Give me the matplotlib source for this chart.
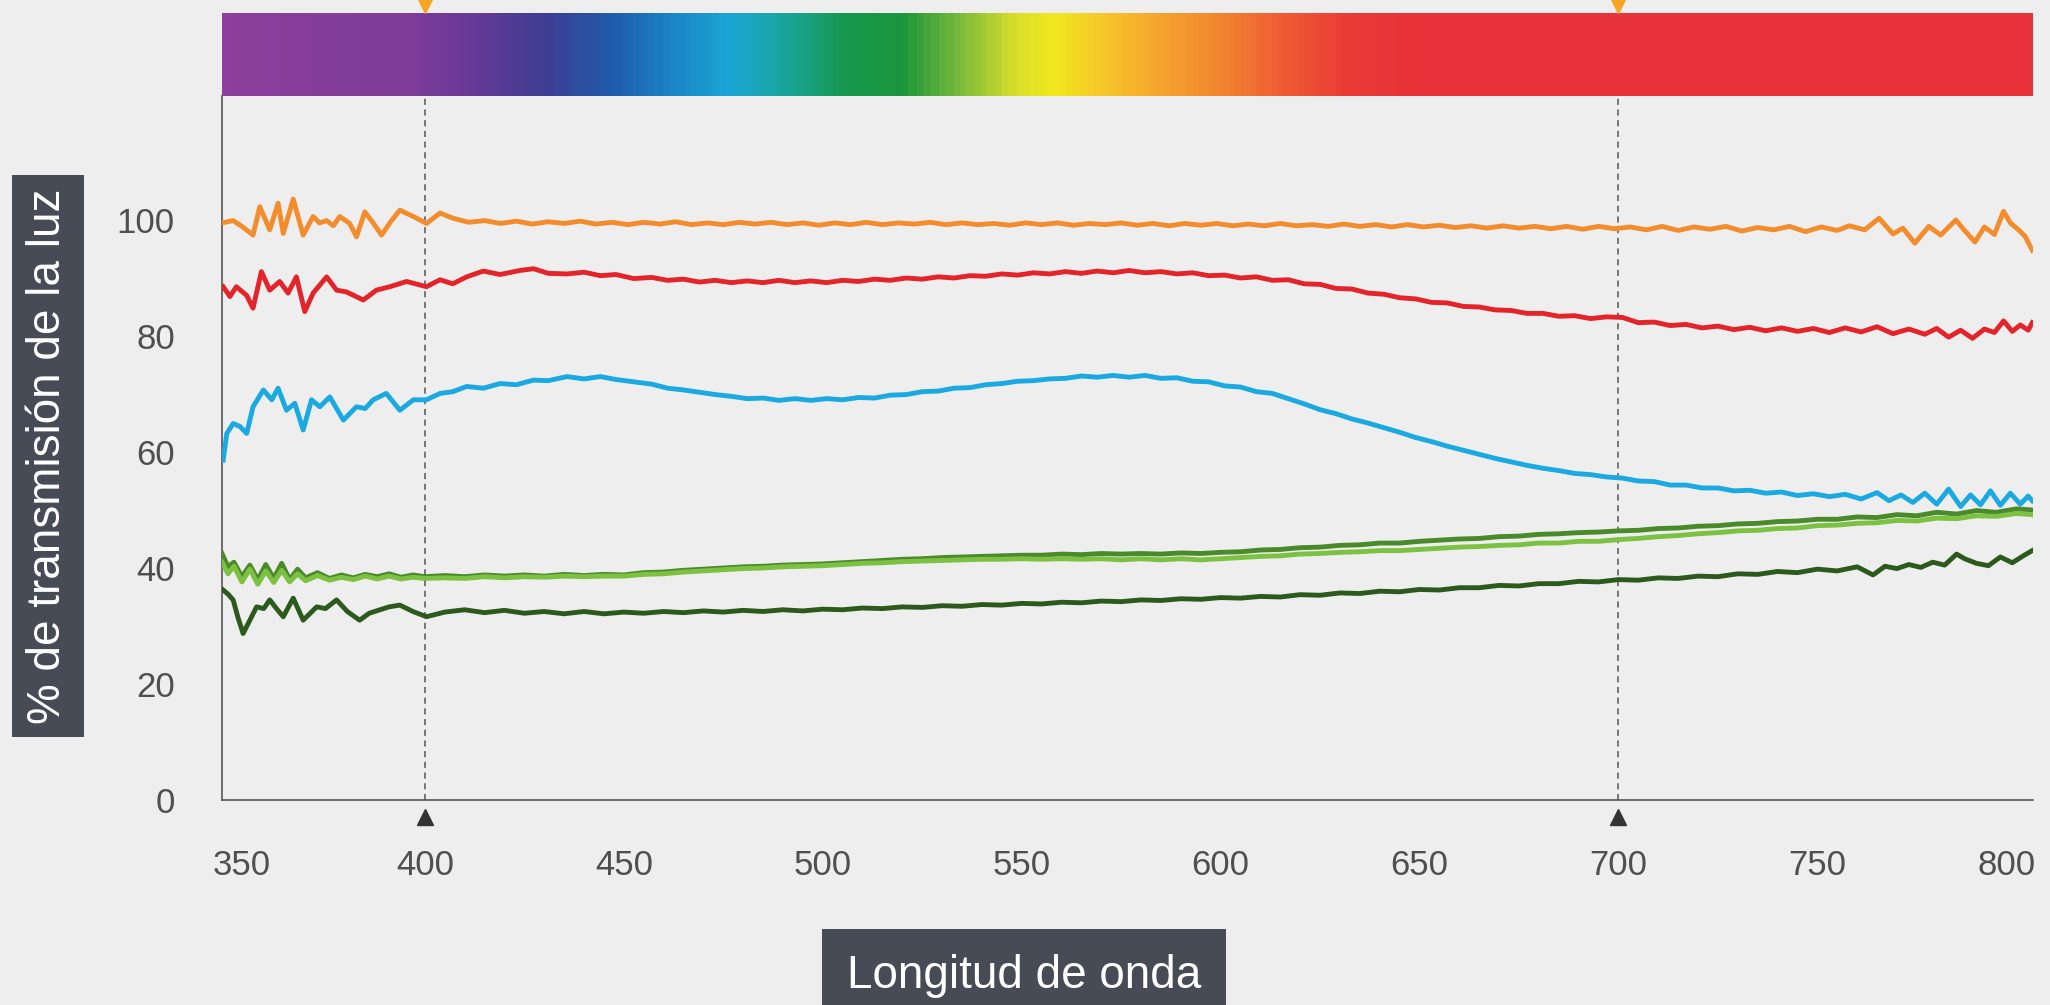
import matplotlib
matplotlib.use("Agg")
import matplotlib.pyplot as plt
import numpy as np
from matplotlib.colors import LinearSegmentedColormap
from matplotlib.transforms import ScaledTranslation

plt.rcParams['font.family'] = ['Liberation Sans', 'DejaVu Sans']

# --- data ---
wl_orange = [
    349, 351.8, 354, 356.8, 358.5, 361, 363.1, 364.4, 366.9, 369.4,
    371.9, 373.5, 375.3, 377, 378.6, 381.1, 382.8, 384.9, 387, 389.1,
    391.5, 393.7, 397.1, 400.4, 403.8, 407.1, 411, 415, 419, 423,
    427, 431, 435, 439, 443, 447, 451, 455, 459, 463,
    467, 471, 475, 479, 483, 487, 491, 495, 499, 503,
    507, 511, 515, 519, 523, 527, 531, 535, 539, 543,
    547, 551, 555, 559, 563, 567, 571, 575, 579, 583,
    587, 591, 595, 599, 603, 607, 611, 615, 619, 623,
    627, 631, 635, 639, 643, 647, 651, 655, 659, 663,
    667, 671, 675, 679, 683, 687, 691, 695, 699, 703,
    707, 711, 715, 719, 723, 727, 731, 735, 739, 743,
    747, 751, 755, 758, 761.9, 765.5, 769, 771.5, 774.5, 778,
    781, 784.8, 787, 789.6, 792, 794.5, 796.8, 798.5, 800.4, 802.2,
    804]
orange = [
    99.5, 99.9, 98.9, 97.4, 102.3, 98.3, 102.9, 97.7, 103.6, 97.4,
    100.6, 99.5, 99.9, 99.0, 100.6, 99.4, 97.1, 101.4, 99.5, 97.4,
    99.8, 101.7, 100.6, 99.4, 101.2, 100.3, 99.6, 99.9, 99.4, 99.8,
    99.3, 99.7, 99.4, 99.8, 99.3, 99.6, 99.2, 99.6, 99.3, 99.7,
    99.2, 99.5, 99.2, 99.6, 99.3, 99.6, 99.2, 99.5, 99.1, 99.5,
    99.2, 99.6, 99.2, 99.5, 99.3, 99.6, 99.2, 99.5, 99.2, 99.4,
    99.1, 99.5, 99.2, 99.5, 99.1, 99.4, 99.2, 99.5, 99.1, 99.4,
    99.0, 99.4, 99.1, 99.4, 99.0, 99.3, 99.0, 99.4, 99.0, 99.2,
    98.9, 99.3, 98.9, 99.2, 98.8, 99.2, 98.8, 99.1, 98.7, 99.0,
    98.6, 99.0, 98.6, 98.9, 98.5, 98.9, 98.4, 98.9, 98.5, 98.8,
    98.3, 98.9, 98.2, 98.8, 98.4, 98.9, 98.1, 98.7, 98.3, 98.9,
    98.0, 98.8, 98.2, 99.0, 98.3, 100.3, 97.6, 98.6, 96.0, 98.9,
    97.4, 100.0, 98.2, 96.2, 98.8, 97.5, 101.5, 99.5, 98.4, 97.2,
    94.8]

wl_red = [
    349.3, 351, 352.6, 355.2, 356.8, 358.9, 361, 363.5, 365.6, 367.7,
    369.8, 371.9, 375.3, 377.8, 380.3, 384.5, 387.8, 391.2, 395.4, 400.4,
    403.8, 407, 410.5, 414.7, 418.9, 423.9, 427.3, 431, 435.7, 440,
    444.1, 448, 452.5, 457, 461, 465, 469, 473, 477, 481,
    485, 489, 493, 497, 501, 505, 509, 513, 517, 521,
    525, 529, 533, 537, 541, 545, 549, 553, 557, 561,
    565, 569, 573, 577, 581, 585, 589, 593, 597, 601,
    605, 609, 613, 617, 621, 625, 629, 633, 637, 641,
    645, 649, 653, 657, 661, 665, 669, 673, 677, 681,
    685, 689, 693, 697, 701, 705, 709, 713, 717, 721,
    725, 729, 733, 737, 741, 745, 749, 753, 757, 761,
    765, 769, 773, 777, 780, 783, 786, 789, 792, 794.5,
    796.8, 799, 801, 803, 804]
red = [
    88.5, 86.8, 88.5, 87.0, 84.8, 91.1, 87.9, 89.4, 87.4, 90.2,
    84.2, 87.4, 90.2, 87.9, 87.6, 86.2, 87.9, 88.5, 89.4, 88.5,
    89.7, 89.0, 90.2, 91.2, 90.6, 91.3, 91.6, 90.8, 90.7, 91.0,
    90.4, 90.6, 89.9, 90.1, 89.6, 89.8, 89.3, 89.6, 89.2, 89.5,
    89.2, 89.6, 89.2, 89.5, 89.2, 89.6, 89.4, 89.8, 89.6, 90.0,
    89.8, 90.2, 90.0, 90.4, 90.3, 90.7, 90.5, 90.9, 90.7, 91.1,
    90.8, 91.2, 90.9, 91.3, 90.9, 91.1, 90.7, 90.9, 90.4, 90.5,
    90.0, 90.2, 89.6, 89.7, 89.0, 88.9, 88.2, 88.1, 87.4, 87.2,
    86.6, 86.4, 85.8, 85.7, 85.1, 85.0, 84.5, 84.4, 83.9, 83.9,
    83.4, 83.5, 83.0, 83.3, 83.2, 82.3, 82.4, 81.8, 82.0, 81.4,
    81.7, 81.1, 81.5, 80.9, 81.4, 80.8, 81.3, 80.6, 81.4, 80.7,
    81.6, 80.4, 81.2, 80.3, 81.3, 79.8, 81.0, 79.6, 81.2, 80.6,
    82.6, 80.8, 81.9, 81.0, 82.3]

wl_blue = [
    349.3, 350.2, 351.8, 353.5, 355.2, 356.8, 359.4, 361.5, 363.1, 365.2,
    367.3, 369.4, 371.5, 373.6, 376.1, 379.5, 382.8, 385, 387, 390.3,
    393.7, 397.1, 400.4, 403.8, 407, 410.5, 414.7, 418.9, 423, 427.3,
    431, 435.7, 440, 444.1, 448, 452.5, 457, 461, 465, 469,
    473, 477, 481, 485, 489, 493, 497, 501, 505, 509,
    513, 517, 521, 525, 529, 533, 537, 541, 545, 549,
    553, 557, 561, 565, 569, 573, 577, 581, 585, 589,
    593, 597, 601, 605, 609, 613, 617, 621, 625, 629,
    633, 637, 641, 645, 649, 653, 657, 661, 665, 669,
    673, 677, 681, 685, 689, 693, 697, 701, 705, 709,
    713, 717, 721, 725, 729, 733, 737, 741, 745, 749,
    753, 757, 761, 765, 768, 771, 774, 777, 780, 783,
    786, 788.5, 791, 793.5, 796, 798.5, 801, 803, 804]
blue = [
    58.6, 63.2, 64.9, 64.4, 63.2, 67.8, 70.7, 69.0, 71.0, 67.2,
    68.4, 63.8, 69.0, 67.8, 69.5, 65.5, 67.8, 67.5, 69.0, 70.1,
    67.2, 69.0, 69.0, 70.1, 70.4, 71.3, 71.0, 71.8, 71.6, 72.4,
    72.3, 73.0, 72.6, 73.0, 72.5, 72.1, 71.7, 71.0, 70.7, 70.3,
    69.9, 69.6, 69.2, 69.3, 68.9, 69.2, 68.9, 69.2, 69.0, 69.4,
    69.3, 69.8, 69.9, 70.4, 70.5, 71.0, 71.1, 71.6, 71.8, 72.2,
    72.3, 72.6, 72.7, 73.1, 72.9, 73.2, 72.9, 73.2, 72.7, 72.8,
    72.2, 72.1, 71.4, 71.2, 70.4, 70.1, 69.2, 68.3, 67.3, 66.6,
    65.7, 65.0, 64.2, 63.4, 62.5, 61.8, 61.0, 60.3, 59.6, 58.9,
    58.3, 57.7, 57.2, 56.8, 56.3, 56.1, 55.7, 55.5, 55.0, 54.9,
    54.3, 54.3, 53.8, 53.8, 53.3, 53.4, 52.9, 53.1, 52.5, 52.8,
    52.3, 52.7, 51.9, 53.0, 51.6, 52.6, 51.3, 52.9, 51.0, 53.6,
    50.6, 52.6, 50.9, 53.3, 50.8, 52.9, 51.0, 52.4, 51.6]

wl_green = [
    349, 350.5, 352, 354, 356, 358, 360, 362, 364, 366,
    368, 370, 373, 376, 379, 382, 385, 388, 391, 394,
    397, 400, 405, 410, 415, 420, 425, 430, 435, 440,
    445, 450, 455, 460, 465, 470, 475, 480, 485, 490,
    495, 500, 505, 510, 515, 520, 525, 530, 535, 540,
    545, 550, 555, 560, 565, 570, 575, 580, 585, 590,
    595, 600, 605, 610, 615, 620, 625, 630, 635, 640,
    645, 650, 655, 660, 665, 670, 675, 680, 685, 690,
    695, 700, 705, 710, 715, 720, 725, 730, 735, 740,
    745, 750, 755, 760, 765, 770, 775, 780, 785, 790,
    795, 800, 804]
green_dark = [
    42.5, 40.2, 41.0, 38.5, 40.5, 38.0, 40.6, 38.2, 40.8, 38.0,
    39.8, 38.3, 39.2, 38.2, 38.8, 38.3, 38.9, 38.5, 39.0, 38.4,
    38.8, 38.5, 38.7, 38.5, 38.8, 38.6, 38.8, 38.6, 38.9, 38.7,
    38.9, 38.8, 39.2, 39.3, 39.6, 39.8, 40.0, 40.2, 40.3, 40.5,
    40.6, 40.7, 40.9, 41.1, 41.3, 41.5, 41.6, 41.8, 41.9, 42.0,
    42.1, 42.2, 42.2, 42.4, 42.3, 42.5, 42.4, 42.5, 42.4, 42.6,
    42.5, 42.7, 42.8, 43.1, 43.2, 43.5, 43.6, 43.9, 44.0, 44.3,
    44.3, 44.6, 44.8, 45.0, 45.1, 45.4, 45.5, 45.8, 45.9, 46.1,
    46.2, 46.4, 46.5, 46.8, 46.9, 47.2, 47.3, 47.6, 47.7, 48.0,
    48.1, 48.4, 48.4, 48.8, 48.7, 49.2, 49.0, 49.6, 49.3, 49.9,
    49.6, 50.2, 50.0]
green_light = [
    41.0, 39.0, 40.3, 37.6, 39.8, 37.2, 39.5, 37.5, 39.6, 37.6,
    39.0, 37.8, 38.7, 37.9, 38.4, 38.0, 38.6, 38.1, 38.6, 38.1,
    38.4, 38.2, 38.3, 38.2, 38.5, 38.3, 38.5, 38.4, 38.6, 38.5,
    38.6, 38.6, 38.9, 39.0, 39.3, 39.5, 39.7, 39.9, 40.0, 40.2,
    40.3, 40.4, 40.6, 40.8, 40.9, 41.1, 41.2, 41.3, 41.4, 41.5,
    41.5, 41.6, 41.5, 41.6, 41.5, 41.6, 41.4, 41.6, 41.4, 41.6,
    41.4, 41.6, 41.8, 42.0, 42.1, 42.4, 42.5, 42.7, 42.8, 43.0,
    43.0, 43.2, 43.4, 43.6, 43.7, 43.9, 44.0, 44.3, 44.3, 44.6,
    44.6, 44.9, 45.1, 45.4, 45.6, 45.9, 46.1, 46.4, 46.5, 46.8,
    46.9, 47.3, 47.4, 47.7, 47.8, 48.2, 48.1, 48.6, 48.5, 49.0,
    48.9, 49.4, 49.2]

wl_dkgreen = [
    349.3, 350.5, 351.8, 353, 354.3, 356, 357.7, 359.5, 361, 362.7,
    364.4, 366.9, 369.4, 372.8, 375, 377.8, 380.5, 383.6, 386, 388.7,
    391, 393.7, 397, 400.4, 405, 410, 415, 420, 425, 430,
    435, 440, 445, 450, 455, 460, 465, 470, 475, 480,
    485, 490, 495, 500, 505, 510, 515, 520, 525, 530,
    535, 540, 545, 550, 555, 560, 565, 570, 575, 580,
    585, 590, 595, 600, 605, 610, 615, 620, 625, 630,
    635, 640, 645, 650, 655, 660, 665, 670, 675, 680,
    685, 690, 695, 700, 705, 710, 715, 720, 725, 730,
    735, 740, 745, 750, 755, 760, 764, 767, 770, 773,
    776, 779, 782, 785, 787, 790, 793, 796, 799, 802,
    804]
dkgreen = [
    36.2, 35.5, 34.5, 31.5, 28.7, 31.0, 33.3, 33.0, 34.5, 33.0,
    31.6, 34.8, 31.0, 33.3, 33.0, 34.5, 32.5, 31.0, 32.2, 32.8,
    33.3, 33.6, 32.5, 31.6, 32.4, 32.8, 32.3, 32.7, 32.2, 32.5,
    32.1, 32.5, 32.1, 32.4, 32.2, 32.5, 32.3, 32.6, 32.4, 32.7,
    32.5, 32.8, 32.6, 32.9, 32.8, 33.1, 33.0, 33.3, 33.2, 33.5,
    33.4, 33.7, 33.6, 33.9, 33.8, 34.1, 34.0, 34.3, 34.2, 34.5,
    34.4, 34.7, 34.6, 34.9, 34.8, 35.1, 35.0, 35.4, 35.3, 35.7,
    35.6, 36.0, 35.9, 36.3, 36.2, 36.6, 36.6, 37.0, 36.9, 37.3,
    37.3, 37.7, 37.6, 38.0, 37.9, 38.3, 38.2, 38.6, 38.5, 39.0,
    38.9, 39.4, 39.2, 39.8, 39.5, 40.2, 38.8, 40.3, 39.9, 40.6,
    40.1, 41.0, 40.5, 42.4, 41.6, 40.8, 40.4, 41.9, 40.9, 42.2,
    43.0]

# spectrum colour stops (wavelength, colour)
spec_wl = [349, 395, 412, 430, 448, 462, 476, 490, 505, 520, 534, 548, 558, 570, 585, 600, 615, 632, 650, 805]
spec_col = ['#8c3f9d', '#7f3c99', '#663a96', '#3b3e93', '#1f5fae', '#1b86c6', '#1ca6d6', '#1aa59c',
            '#17984f', '#1a963c', '#7ab93b', '#d8de2b', '#f2e81e', '#f6c72a', '#f5a42e', '#f28530',
            '#ef5e33', '#ea3b36', '#e8333a', '#e8333a']

xticks = [350, 400, 450, 500, 550, 600, 650, 700, 750, 800]
yticks = [0, 20, 40, 60, 80, 100]
markers_wl = [400, 700]

# --- figure ---
W, H = 2050, 1005
bg = '#eeeeee'
fig = plt.figure(figsize=(W / 100, H / 100), dpi=100, facecolor=bg)

x0, x1 = 222 / W, 2033 / W
ax = fig.add_axes([x0, 1 - 800 / H, x1 - x0, (800 - 96) / H])
ax.set_facecolor(bg)
ax.set_xlim(349, 804.2)
ax.set_ylim(0, (800 - 96) / 5.8)

lw = 3.5
ax.plot(wl_orange, orange, color='#f28c2c', lw=lw, zorder=3)
ax.plot(wl_red, red, color='#e3242b', lw=lw, zorder=3)
ax.plot(wl_blue, blue, color='#1ba9e1', lw=lw, zorder=3)
ax.plot(wl_green, green_dark, color='#4b8a2b', lw=lw, zorder=3)
ax.plot(wl_green, green_light, color='#7cc142', lw=lw, zorder=3)
ax.plot(wl_dkgreen, dkgreen, color='#2c5a1c', lw=lw, zorder=3)

for w in markers_wl:
    ax.axvline(w, color='#555555', lw=1.1, ls=(0, (4, 3)), zorder=1)
ax.plot(markers_wl, [-2.9] * len(markers_wl), ls='none', marker='^', ms=11,
        color='#333333', clip_on=False, zorder=4)

for s in ['top', 'right']:
    ax.spines[s].set_visible(False)
for s in ['left', 'bottom']:
    ax.spines[s].set_color('#555555')
    ax.spines[s].set_linewidth(1.2)

ax.set_xticks(xticks)
ax.set_yticks(yticks)
ax.tick_params(axis='both', length=0, labelsize=25, labelcolor='#4f4f4f')
ax.tick_params(axis='x', pad=35)
ax.tick_params(axis='y', pad=34)

labs = ax.get_xticklabels()
labs[0].set_transform(labs[0].get_transform() + ScaledTranslation(16 / 100, 0, fig.dpi_scale_trans))
labs[-1].set_transform(labs[-1].get_transform() + ScaledTranslation(-10 / 100, 0, fig.dpi_scale_trans))

# spectrum bar
sax = fig.add_axes([x0, 1 - 96 / H, x1 - x0, (96 - 13) / H])
cmap = LinearSegmentedColormap.from_list(
    'spec', [((w - spec_wl[0]) / (spec_wl[-1] - spec_wl[0]), c) for w, c in zip(spec_wl, spec_col)])
grad = np.linspace(0, 1, 600).reshape(1, -1)
sax.imshow(grad, cmap=cmap, aspect='auto', extent=[spec_wl[0], spec_wl[-1], 0, 1])
sax.set_xlim(349, 804.2)
sax.set_ylim(0, 1)
sax.axis('off')
sax.plot(markers_wl, [1.08] * len(markers_wl), ls='none', marker='v', ms=10,
         color='#f5a623', clip_on=False)

# axis titles in dark boxes
fig.text(48 / W, 1 - 456 / H, '% de transmisión de la luz', rotation=90,
         ha='center', va='center', fontsize=33, color='white',
         bbox=dict(boxstyle='square,pad=0.3', fc='#474b55', ec='none'))
fig.text(1024 / W, 1 - 976 / H, 'Longitud de onda', ha='center', va='center',
         fontsize=33, color='white',
         bbox=dict(boxstyle='square,pad=0.55', fc='#474b55', ec='none'))

fig.savefig('out.png', dpi=100, facecolor=bg)
